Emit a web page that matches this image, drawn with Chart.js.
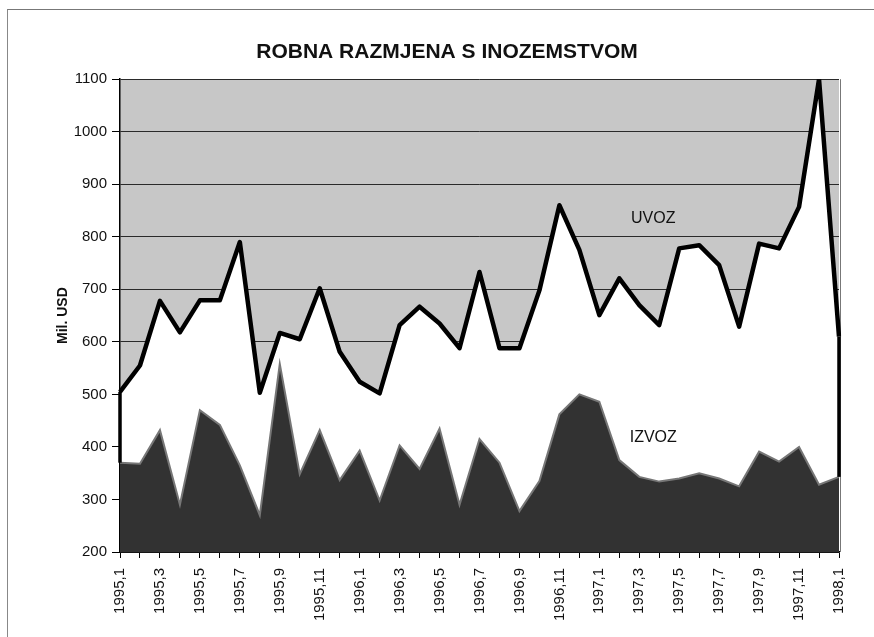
<!DOCTYPE html>
<html>
<head>
<meta charset="utf-8">
<title>Robna razmjena s inozemstvom</title>
<script src="https://cdn.jsdelivr.net/npm/chart.js@4/dist/chart.umd.min.js"></script>
<style>
  body { margin: 0; background: #fff; }
  #wrap { position: relative; width: 874px; height: 637px; }
  #frame {
    position: absolute; left: 7px; top: 9px; right: 0; bottom: 0;
    border-top: 1px solid #777; border-left: 1px solid #888;
    pointer-events: none;
  }
</style>
</head>
<body>
<div id="wrap">
  <canvas id="chart" width="874" height="637"></canvas>
  <div id="frame"></div>
</div>
<script>
// mjeseci 1995,1 - 1998,1
const months = [];
for (let y = 1995; y <= 1998; y++) {
  for (let m = 1; m <= 12; m++) {
    if (y === 1998 && m > 1) break;
    months.push(y + "," + m);
  }
}

// mil. USD, ocitano sa slike
const uvoz = [505, 555, 678, 618, 679, 679, 790, 503, 617, 605, 702, 581,
              524, 502, 632, 667, 635, 588, 733, 588, 588, 698, 860, 775,
              651, 721, 670, 632, 778, 784, 746, 629, 787, 778, 857, 1100,
              610];
const izvoz = [370, 368, 432, 290, 470, 442, 365, 270, 558, 348, 432, 337,
               393, 298, 403, 358, 435, 290, 415, 370, 278, 335, 462, 500,
               486, 375, 343, 334, 340, 350, 340, 325, 391, 372, 400, 328,
               343];

const yMin = 200, yMax = 1100, yStep = 100;

const font = "'Liberation Sans', Arial, sans-serif";

// sivu pozadinu crtamo prije mreze
const background = {
  id: "background",
  beforeDraw(chart) {
    const ctx = chart.ctx;
    const a = chart.chartArea;
    ctx.save();
    ctx.fillStyle = "#fff";
    ctx.fillRect(0, 0, chart.width, chart.height);
    ctx.fillStyle = "#c7c7c7";
    ctx.fillRect(a.left, a.top, a.right - a.left, a.bottom - a.top);
    ctx.strokeStyle = "#777";
    ctx.lineWidth = 1;
    ctx.beginPath();
    ctx.moveTo(a.right + 1.5, a.top);
    ctx.lineTo(a.right + 1.5, a.bottom);
    ctx.stroke();
    ctx.restore();
  }
};

// rubovi povrsine UVOZ i natpisi
const extras = {
  id: "extras",
  afterDatasetsDraw(chart) {
    const ctx = chart.ctx;
    const up = chart.getDatasetMeta(1).data;
    const down = chart.getDatasetMeta(0).data;
    ctx.save();
    ctx.strokeStyle = "#000";
    ctx.lineWidth = 3.5;
    [0, up.length - 1].forEach(i => {
      ctx.beginPath();
      ctx.moveTo(up[i].x, up[i].y);
      ctx.lineTo(down[i].x, down[i].y);
      ctx.stroke();
    });
    const xs = chart.scales.x, ys = chart.scales.y;
    ctx.fillStyle = "#111";
    ctx.font = "16px " + font;
    ctx.textAlign = "center";
    ctx.textBaseline = "middle";
    ctx.fillText("UVOZ", xs.getPixelForValue(26.7), ys.getPixelForValue(835));
    ctx.fillText("IZVOZ", xs.getPixelForValue(26.7), ys.getPixelForValue(417));
    ctx.restore();
  }
};

new Chart(document.getElementById("chart"), {
  type: "line",
  data: {
    labels: months,
    datasets: [
      {
        label: "IZVOZ",
        data: izvoz,
        order: 0,
        fill: "start",
        backgroundColor: "#323232",
        borderColor: "#777",
        borderWidth: 2,
        pointRadius: 0,
        tension: 0
      },
      {
        label: "UVOZ",
        data: uvoz,
        order: 1,
        fill: "start",
        backgroundColor: "#fff",
        borderColor: "#000",
        borderWidth: 4.5,
        borderJoinStyle: "round",
        pointRadius: 0,
        tension: 0
      }
    ]
  },
  options: {
    responsive: false,
    devicePixelRatio: 1,
    animation: false,
    layout: { padding: { left: 55, right: 35, top: 0, bottom: 0 } },
    plugins: {
      legend: { display: false },
      tooltip: { enabled: false },
      title: {
        display: true,
        text: "ROBNA RAZMJENA S INOZEMSTVOM",
        color: "#111",
        font: { family: font, size: 21, weight: "bold" },
        padding: { top: 40, bottom: 14 }
      }
    },
    scales: {
      x: {
        offset: false,
        afterFit(scale) { scale.height = 85; },
        grid: {
          drawOnChartArea: false,
          drawTicks: true,
          tickLength: 6,
          tickColor: "#000"
        },
        border: { color: "#000", width: 1.5 },
        ticks: {
          autoSkip: false,
          maxRotation: 90,
          minRotation: 90,
          padding: 10,
          color: "#111",
          font: { family: font, size: 15 },
          callback(value, index) {
            return index % 2 === 0 ? months[index] : "";
          }
        }
      },
      y: {
        min: yMin,
        max: yMax,
        afterFit(scale) { scale.width = 65; },
        title: {
          display: true,
          text: "Mil. USD",
          color: "#111",
          font: { family: font, size: 14, weight: "bold" },
          padding: 0
        },
        grid: {
          color: "#2a2a2a",
          lineWidth: 1,
          tickLength: 8,
          tickColor: "#000"
        },
        border: { color: "#000", width: 1.5 },
        ticks: {
          stepSize: yStep,
          padding: 5,
          color: "#111",
          font: { family: font, size: 15 },
          callback(value) { return String(value); }
        }
      }
    }
  },
  plugins: [background, extras]
});
</script>
</body>
</html>
